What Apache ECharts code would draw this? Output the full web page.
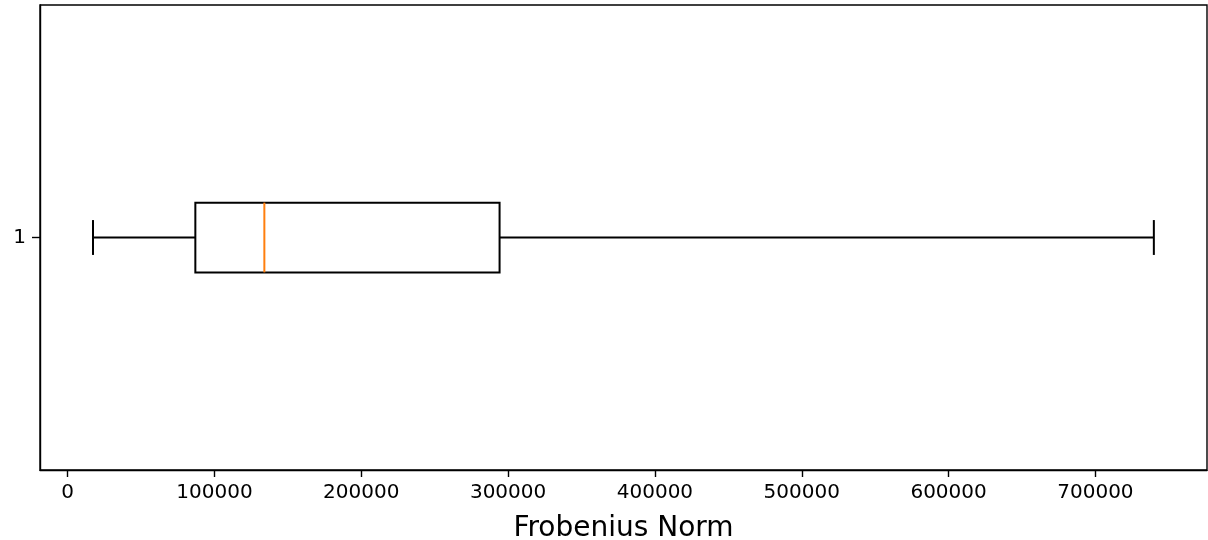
<!DOCTYPE html>
<html>
<head>
<meta charset="utf-8">
<script src="https://cdn.jsdelivr.net/npm/echarts@6/dist/echarts.min.js"></script>
<style>html,body{margin:0;padding:0;background:#fff;}#c{width:1208px;height:540px;}</style>
</head>
<body>
<div id="c"></div>
<script>
var categories = ['1'];
var whiskerLow = [17300];
var q1 = [87000];
var median = [134000];
var q3 = [294200];
var whiskerHigh = [739800];
var xTicks = [0, 100000, 200000, 300000, 400000, 500000, 600000, 700000];

var data = categories.map(function (c, i) {
  return [i, whiskerLow[i], q1[i], median[i], q3[i], whiskerHigh[i]];
});

var chart = echarts.init(document.getElementById('c'));
chart.setOption({
  animation: false,
  backgroundColor: '#fff',
  grid: { left: 40, right: 1, top: 5, bottom: 70, show: true, borderColor: '#000', borderWidth: 1.4, backgroundColor: 'transparent', containLabel: false, outerBoundsMode: 'none' },
  xAxis: {
    type: 'value', min: -18800, max: 776000,
    name: 'Frobenius Norm', nameLocation: 'middle', nameGap: 45,
    nameTextStyle: { fontFamily: 'DejaVu Sans', fontSize: 28, color: '#000' },
    axisLine: { show: true, onZero: false, lineStyle: { color: '#000', width: 1.4 } },
    axisTick: { show: true, length: 7, customValues: xTicks, lineStyle: { color: '#000', width: 1.4 } },
    axisLabel: {
      fontFamily: 'DejaVu Sans', fontSize: 20, color: '#000', margin: 13,
      customValues: xTicks,
      formatter: function (v) { return String(v); }
    },
    splitLine: { show: false }
  },
  yAxis: {
    type: 'category', data: categories, boundaryGap: true,
    axisLine: { show: true, onZero: false, lineStyle: { color: '#000', width: 1.4 } },
    axisTick: { show: true, alignWithLabel: true, length: 8, lineStyle: { color: '#000', width: 1.4 } },
    axisLabel: { fontFamily: 'DejaVu Sans', fontSize: 20, color: '#000', margin: 14 },
    splitLine: { show: false }
  },
  series: [{
    type: 'custom',
    data: data,
    encode: { y: 0, x: [1, 2, 3, 4, 5] },
    renderItem: function (params, api) {
      var cat = api.value(0);
      var band = api.size([0, 1])[1];
      var half = band * 0.15 / 2;
      var capHalf = band * 0.075 / 2;
      var pLo = api.coord([api.value(1), cat]);
      var pQ1 = api.coord([api.value(2), cat]);
      var pMed = api.coord([api.value(3), cat]);
      var pQ3 = api.coord([api.value(4), cat]);
      var pHi = api.coord([api.value(5), cat]);
      var y = pQ1[1];
      var black = { stroke: '#000', lineWidth: 2, fill: null };
      return {
        type: 'group',
        children: [
          { type: 'line', shape: { x1: pLo[0], y1: y, x2: pQ1[0], y2: y }, style: black },
          { type: 'line', shape: { x1: pQ3[0], y1: y, x2: pHi[0], y2: y }, style: black },
          { type: 'line', shape: { x1: pLo[0], y1: y - capHalf, x2: pLo[0], y2: y + capHalf }, style: black },
          { type: 'line', shape: { x1: pHi[0], y1: y - capHalf, x2: pHi[0], y2: y + capHalf }, style: black },
          { type: 'rect', shape: { x: pQ1[0], y: y - half, width: pQ3[0] - pQ1[0], height: half * 2 }, style: { stroke: '#000', lineWidth: 2, fill: 'none' } },
          { type: 'line', shape: { x1: pMed[0], y1: y - half, x2: pMed[0], y2: y + half }, style: { stroke: '#ff7f0e', lineWidth: 2 } }
        ]
      };
    }
  }]
});
</script>
</body>
</html>
